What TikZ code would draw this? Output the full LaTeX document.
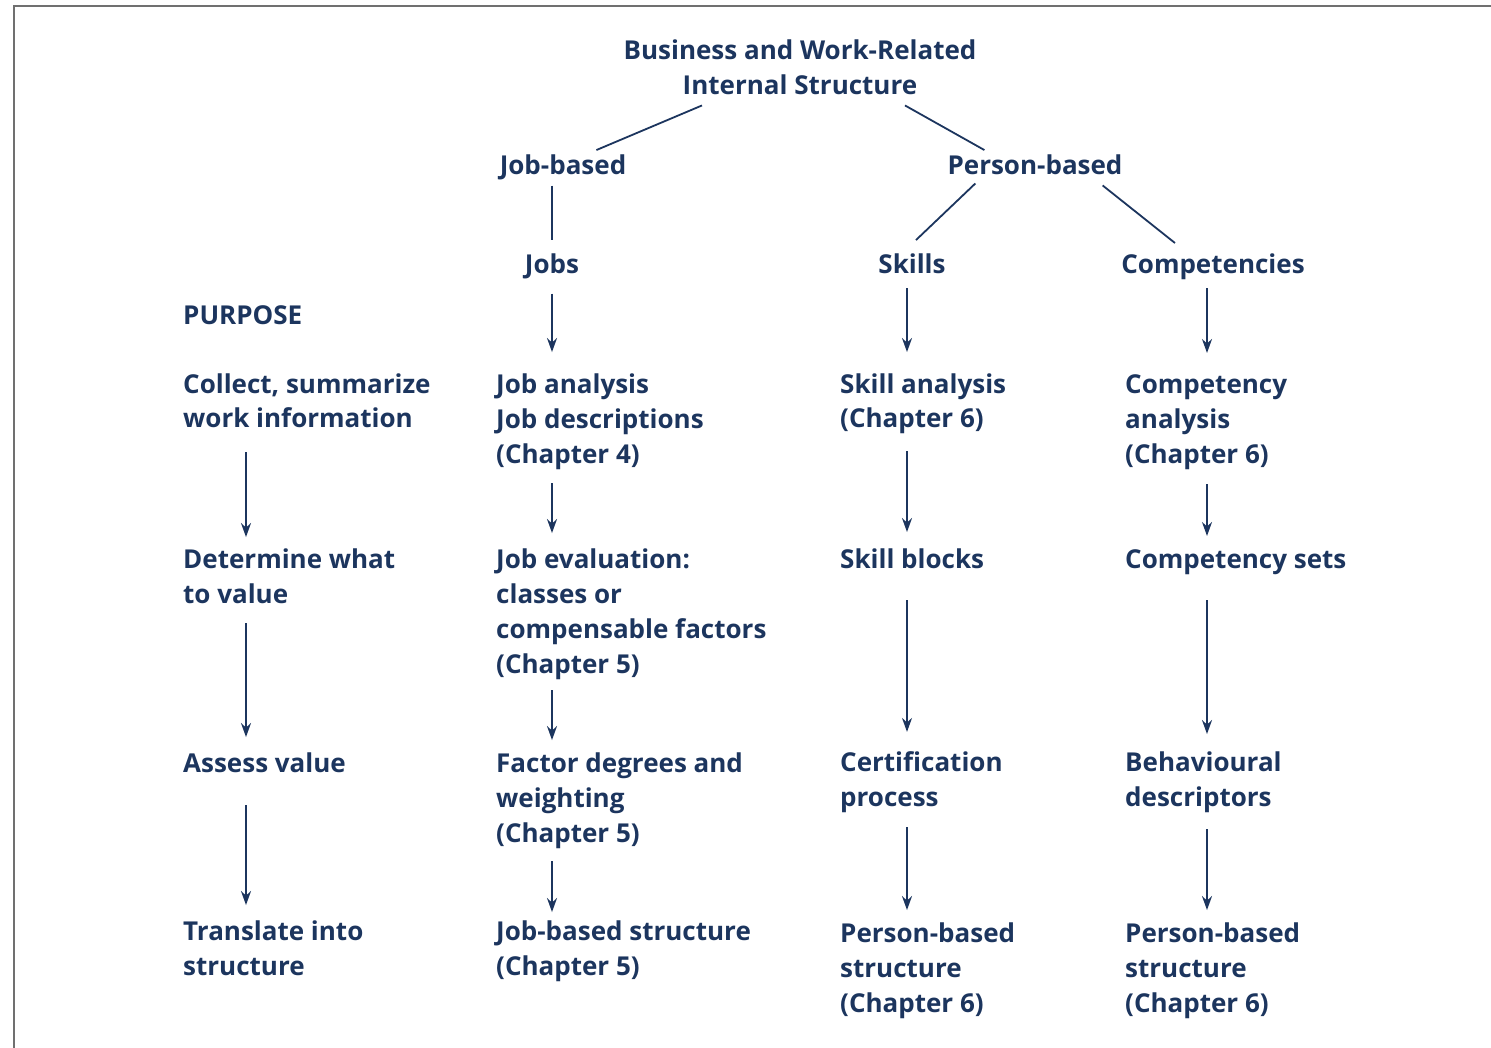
\documentclass[tikz,border=0pt]{standalone}
\usepackage{fontspec}
\setmainfont{Open Sans}
\usetikzlibrary{arrows.meta}
\definecolor{navy}{HTML}{1C355E}
\definecolor{framegray}{HTML}{707070}
\begin{document}
\begin{tikzpicture}[x=1pt,y=-1pt,
		lbl/.style={font=\fontsize{26}{35}\selectfont\bfseries, text=navy, inner sep=0pt, align=left, anchor=base west},
		ctr/.style={lbl, align=center, anchor=base},
		ln/.style={draw=navy, line width=1.8pt},
		arr/.style={ln, -{Stealth[length=14pt,width=10pt]}}]
		\useasboundingbox (0,0) rectangle (1491,1048);
		\draw [framegray, line width=2.5pt] (14,1048) -- (14,6) -- (1491,6);
		% column axes for the arrows
		\coordinate (colL) at (246,0);
		\coordinate (colJ) at (552,0);
		\coordinate (colS) at (907,0);
		\coordinate (colC) at (1207,0);
		% top of the tree (base = baseline of the last line)
		\node [ctr] (title) at (800,95) {Business and Work-Related\\Internal Structure};
		\node [ctr] (jobbased) at (563,175) {Job-based};
		\node [ctr] (personbased) at (1035,175) {Person-based};
		\node [ctr] (jobs) at (552,274) {Jobs};
		\node [ctr] (skills) at (912,274) {Skills};
		\node [ctr] (competencies) at (1213,274) {Competencies};
		\node [lbl] (purpose) at (183,325) {PURPOSE};
		% row 1
		\node [lbl] (collect) at (183,428) {Collect, summarize\\work information};
		\node [lbl] (jobanalysis) at (496,463) {Job analysis\\Job descriptions\\(Chapter 4)};
		\node [lbl] (skillanalysis) at (840,428) {Skill analysis\\(Chapter 6)};
		\node [lbl] (companalysis) at (1125,463) {Competency\\analysis\\(Chapter 6)};
		% row 2
		\node [lbl] (determine) at (183,603) {Determine what\\to value};
		\node [lbl] (jobeval) at (496,673) {Job evaluation:\\classes or\\compensable factors\\(Chapter 5)};
		\node [lbl] (skillblocks) at (840,568) {Skill blocks};
		\node [lbl] (compsets) at (1125,568) {Competency sets};
		% row 3
		\node [lbl] (assess) at (183,772) {Assess value};
		\node [lbl] (factor) at (496,842) {Factor degrees and\\weighting\\(Chapter 5)};
		\node [lbl] (cert) at (840,806) {Certification\\process};
		\node [lbl] (behav) at (1125,806) {Behavioural\\descriptors};
		% row 4
		\node [lbl] (translate) at (183,975) {Translate into\\structure};
		\node [lbl] (jobstruct) at (496,975) {Job-based structure\\(Chapter 5)};
		\node [lbl] (skillstruct) at (840,1012) {Person-based\\structure\\(Chapter 6)};
		\node [lbl] (compstruct) at (1125,1012) {Person-based\\structure\\(Chapter 6)};
		% tree lines
		\draw [ln] ([xshift=-98pt,yshift=-10pt]title.south) -- ([xshift=-30pt,yshift=5pt]jobbased.north east);
		\draw [ln] ([xshift=105pt,yshift=-10pt]title.south) -- ([xshift=37pt,yshift=5pt]personbased.north west);
		\draw [ln, shorten <=5pt, shorten >=14pt] (jobbased.south -| colJ) -- (jobs.north);
		\draw [ln] ([xshift=28pt,yshift=-8pt]personbased.south west) -- ([xshift=4pt,yshift=14pt]skills.north);
		\draw [ln] ([xshift=-20pt,yshift=-10pt]personbased.south east) -- ([xshift=-38pt,yshift=11pt]competencies.north);
		% purpose column
		\draw [arr, shorten <=24pt, shorten >=11pt] (collect.south -| colL) -- (determine.north -| colL);
		\draw [arr, shorten <=20pt, shorten >=15pt] (determine.south -| colL) -- (assess.north -| colL);
		\draw [arr, shorten <=33pt, shorten >=15pt] (assess.south -| colL) -- (translate.north -| colL);
		% job column
		\draw [arr, shorten <=14pt, shorten >=21pt] (jobs.south -| colJ) -- (jobanalysis.north -| colJ);
		\draw [arr, shorten <=14pt, shorten >=15pt] (jobanalysis.south -| colJ) -- (jobeval.north -| colJ);
		\draw [arr, shorten <=11pt, shorten >=12pt] (jobeval.south -| colJ) -- (factor.north -| colJ);
		\draw [arr, shorten <=13pt, shorten >=8pt] (factor.south -| colJ) -- (jobstruct.north -| colJ);
		% skill column
		\draw [arr, shorten <=14pt, shorten >=21pt] (skills.south -| colS) -- (skillanalysis.north -| colS);
		\draw [arr, shorten <=17pt, shorten >=16pt] (skillanalysis.south -| colS) -- (skillblocks.north -| colS);
		\draw [arr, shorten <=32pt, shorten >=19pt] (skillblocks.south -| colS) -- (cert.north -| colS);
		\draw [arr, shorten <=15pt, shorten >=12pt] (cert.south -| colS) -- (skillstruct.north -| colS);
		% competency column
		\draw [arr, shorten <=8pt, shorten >=21pt] (competencies.south -| colC) -- (companalysis.north -| colC);
		\draw [arr, shorten <=15pt, shorten >=13pt] (companalysis.south -| colC) -- (compsets.north -| colC);
		\draw [arr, shorten <=26pt, shorten >=17pt] (compsets.south -| colC) -- (behav.north -| colC);
		\draw [arr, shorten <=17pt, shorten >=12pt] (behav.south -| colC) -- (compstruct.north -| colC);
	\end{tikzpicture}
\end{document}
